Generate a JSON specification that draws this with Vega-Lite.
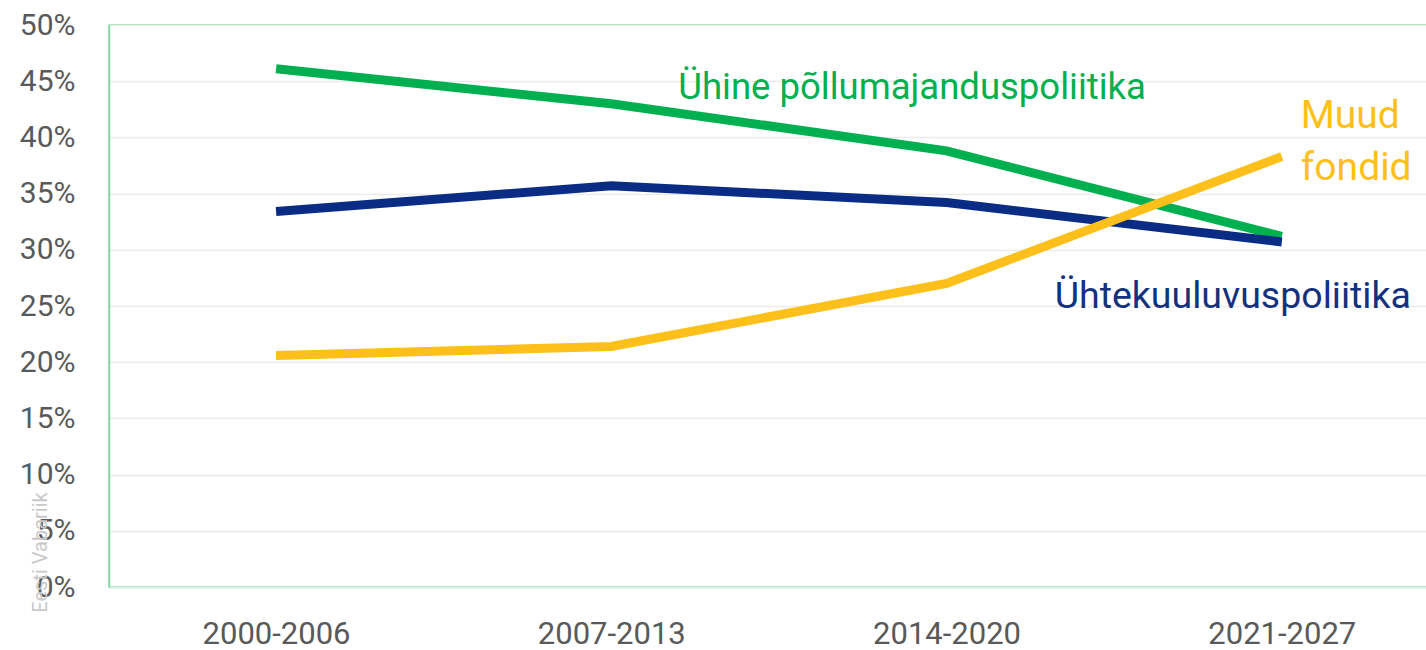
{
  "$schema": "https://vega.github.io/schema/vega-lite/v6.json",
  "autosize": {"type": "none"},
  "width": 1318,
  "height": 562,
  "padding": {"left": 109, "top": 25, "right": 0, "bottom": 63},
  "background": "white",
  "config": {
    "font": "Roboto",
    "view": {"stroke": "#86d6a2", "strokeWidth": 1.5}
  },
  "datasets": {
    "shares": [
      {"period": "2000-2006", "series": "Ühine põllumajanduspoliitika", "value": 46.1},
      {"period": "2007-2013", "series": "Ühine põllumajanduspoliitika", "value": 43.0},
      {"period": "2014-2020", "series": "Ühine põllumajanduspoliitika", "value": 38.8},
      {"period": "2021-2027", "series": "Ühine põllumajanduspoliitika", "value": 31.2},
      {"period": "2000-2006", "series": "Ühtekuuluvuspoliitika", "value": 33.4},
      {"period": "2007-2013", "series": "Ühtekuuluvuspoliitika", "value": 35.7},
      {"period": "2014-2020", "series": "Ühtekuuluvuspoliitika", "value": 34.2},
      {"period": "2021-2027", "series": "Ühtekuuluvuspoliitika", "value": 30.7},
      {"period": "2000-2006", "series": "Muud fondid", "value": 20.6},
      {"period": "2007-2013", "series": "Muud fondid", "value": 21.4},
      {"period": "2014-2020", "series": "Muud fondid", "value": 27.0},
      {"period": "2021-2027", "series": "Muud fondid", "value": 38.3}
    ],
    "labels": [
      {"series": "Ühine põllumajanduspoliitika", "label": "Ühine põllumajanduspoliitika"},
      {"series": "Muud fondid", "label": "Muud"},
      {"series": "Muud fondid2", "label": "fondid"},
      {"series": "Ühtekuuluvuspoliitika", "label": "Ühtekuuluvuspoliitika"}
    ]
  },
  "layer": [
    {
      "data": {"name": "shares"},
      "mark": {"type": "line", "strokeWidth": 9, "strokeCap": "butt"},
      "encoding": {
        "x": {
          "field": "period",
          "type": "ordinal",
          "scale": {"type": "point", "padding": 0.4657, "align": 0.535},
          "axis": {
            "title": null,
            "labelAngle": 0,
            "labelFontSize": 31,
            "labelColor": "#595959",
            "labelPadding": 47,
            "labelBaseline": "middle",
            "ticks": false,
            "domainColor": "#d6eee0",
            "domainWidth": 2,
            "grid": false
          }
        },
        "y": {
          "field": "value",
          "type": "quantitative",
          "scale": {"domain": [0, 50], "nice": false, "zero": true},
          "axis": {
            "values": [0, 5, 10, 15, 20, 25, 30, 35, 40, 45, 50],
            "labelExpr": "datum.value + '%'",
            "labelFontSize": 30,
            "labelColor": "#595959",
            "labelPadding": 34,
            "ticks": false,
            "domainColor": "#86d6a2",
            "domainWidth": 1.5,
            "gridColor": "#ebebeb",
            "gridWidth": 1.5,
            "title": "Eesti Vabariik",
            "titleAngle": 270,
            "titleX": -69,
            "titleY": 527,
            "titleAlign": "center",
            "titleBaseline": "middle",
            "titleFontSize": 20,
            "titleFontWeight": "normal",
            "titleColor": "#c9c9c9"
          }
        },
        "color": {
          "field": "series",
          "type": "nominal",
          "scale": {
            "domain": ["Ühine põllumajanduspoliitika", "Ühtekuuluvuspoliitika", "Muud fondid"],
            "range": ["#00b050", "#0a2c84", "#fdc01a"]
          },
          "legend": null
        }
      }
    },
    {
      "data": {"name": "labels"},
      "transform": [{"filter": "datum.series === 'Ühine põllumajanduspoliitika'"}],
      "mark": {"type": "text", "align": "left", "baseline": "middle", "dx": 67, "fontSize": 36.5, "color": "#00b050"},
      "encoding": {
        "x": {"datum": "2007-2013", "type": "ordinal"},
        "y": {"datum": 44.4, "type": "quantitative"},
        "text": {"field": "label"}
      }
    },
    {
      "data": {"name": "labels"},
      "transform": [{"filter": "datum.series === 'Muud fondid'"}],
      "mark": {"type": "text", "align": "left", "baseline": "middle", "dx": 19, "fontSize": 39, "color": "#fdc01a"},
      "encoding": {
        "x": {"datum": "2021-2027", "type": "ordinal"},
        "y": {"datum": 41.9, "type": "quantitative"},
        "text": {"field": "label"}
      }
    },
    {
      "data": {"name": "labels"},
      "transform": [{"filter": "datum.series === 'Muud fondid2'"}],
      "mark": {"type": "text", "align": "left", "baseline": "middle", "dx": 19, "fontSize": 39, "color": "#fdc01a"},
      "encoding": {
        "x": {"datum": "2021-2027", "type": "ordinal"},
        "y": {"datum": 37.3, "type": "quantitative"},
        "text": {"field": "label"}
      }
    },
    {
      "data": {"name": "labels"},
      "transform": [{"filter": "datum.series === 'Ühtekuuluvuspoliitika'"}],
      "mark": {"type": "text", "align": "right", "baseline": "middle", "dx": 129, "fontSize": 37.5, "color": "#14317d"},
      "encoding": {
        "x": {"datum": "2021-2027", "type": "ordinal"},
        "y": {"datum": 25.8, "type": "quantitative"},
        "text": {"field": "label"}
      }
    }
  ]
}
